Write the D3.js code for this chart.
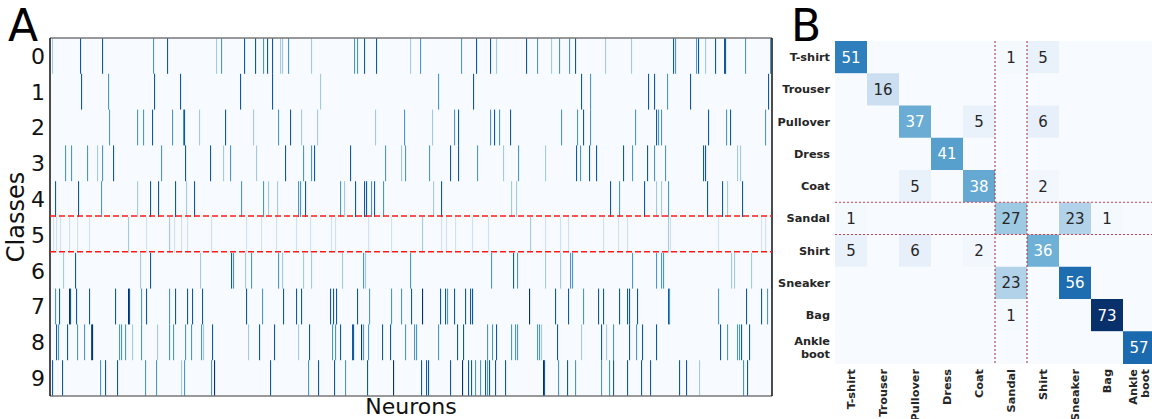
<!DOCTYPE html>
<html>
<head>
<meta charset="utf-8">
<script src="https://cdn.jsdelivr.net/npm/d3@7"></script>
<style>
body { margin: 0; background: #fff; }
svg { display: block; font-family: "DejaVu Sans", sans-serif; }
</style>
</head>
<body>
<svg id="chart" width="1152" height="419"></svg>
<script>
// panel A: active neurons per class, [neuron index, intensity level 1..5]
var nNeurons = 722;
var class0 = [[2,2],[30,4],[52,4],[103,3],[117,4],[166,2],[171,3],[194,4],[205,4],[213,3],[217,4],[222,4],[230,2],[232,2],[238,3],[261,2],[304,3],[307,3],[314,4],[326,4],[360,2],[370,3],[411,3],[426,4],[440,4],[446,2],[476,4],[487,3],[501,2],[509,3],[519,3],[525,4],[555,2],[581,2],[623,4],[625,3],[646,3],[648,4],[655,2],[665,4],[674,4],[675,4],[695,3],[720,3]];
var class1 = [[31,4],[58,3],[104,4],[130,4],[190,4],[222,4],[270,2],[388,3],[423,4],[531,4],[540,3],[598,4],[604,4],[617,3],[640,4],[718,4]];
var class2 = [[59,3],[87,3],[93,3],[102,4],[122,3],[133,3],[134,4],[149,2],[175,4],[203,2],[228,3],[240,4],[251,2],[267,2],[325,2],[354,3],[382,2],[404,3],[408,4],[440,3],[444,4],[449,3],[460,4],[511,3],[527,3],[533,4],[540,3],[585,3],[606,4],[608,3],[611,3],[658,4],[676,3],[680,4],[715,3]];
var class3 = [[15,3],[21,3],[37,3],[47,2],[52,3],[63,4],[111,3],[135,4],[160,4],[173,2],[180,3],[206,2],[235,4],[253,3],[261,3],[264,4],[300,4],[335,3],[351,2],[355,3],[379,3],[400,4],[408,4],[427,3],[453,2],[468,3],[495,2],[526,4],[530,3],[539,4],[546,4],[573,4],[582,3],[597,4],[604,3],[615,3],[653,4],[655,4],[687,2],[690,2]];
var class4 = [[5,4],[28,4],[51,3],[87,2],[100,4],[108,4],[125,4],[136,2],[144,4],[191,3],[213,3],[218,2],[227,2],[248,3],[250,3],[255,4],[290,3],[294,2],[305,4],[314,4],[316,4],[321,3],[324,4],[333,3],[383,2],[391,4],[461,2],[466,2],[560,4],[569,3],[594,4],[606,2],[611,2],[618,3],[657,4],[672,4],[677,2],[692,4]];
var class5 = [[3,1],[6,1],[10,1],[19,1],[27,1],[39,1],[78,2],[96,1],[119,2],[124,1],[131,1],[137,1],[161,1],[196,1],[211,1],[226,1],[246,1],[260,1],[281,1],[285,1],[318,1],[341,1],[372,2],[391,1],[396,1],[405,1],[422,1],[438,1],[480,2],[495,1],[510,1],[518,1],[553,1],[568,1],[577,1],[618,2],[620,1],[668,1],[711,1],[715,1]];
var class6 = [[13,2],[25,4],[90,2],[100,4],[150,2],[181,4],[183,3],[195,2],[201,3],[228,3],[232,2],[253,2],[261,2],[292,2],[313,3],[315,2],[360,3],[441,3],[463,4],[467,3],[495,2],[510,2],[520,3],[522,3],[582,3],[606,3],[611,3],[613,3],[681,2],[684,2],[701,2],[721,2]];
var class7 = [[5,3],[9,4],[19,5],[20,4],[26,4],[39,4],[65,4],[78,5],[79,4],[91,3],[96,4],[119,3],[125,4],[137,4],[142,4],[152,4],[196,4],[212,3],[233,4],[246,4],[251,4],[280,4],[283,4],[286,4],[307,4],[319,3],[341,3],[351,3],[361,4],[372,5],[390,4],[395,4],[397,3],[404,4],[415,4],[420,4],[422,4],[479,5],[505,4],[518,4],[533,3],[548,4],[553,4],[569,4],[577,4],[579,4],[587,4],[618,4],[619,3],[668,3],[696,4],[711,4],[717,3]];
var class8 = [[6,4],[8,3],[17,4],[27,3],[34,3],[41,4],[42,5],[69,3],[71,3],[75,3],[82,2],[91,3],[107,2],[119,3],[123,3],[135,3],[141,3],[151,3],[153,2],[162,4],[198,2],[209,4],[224,4],[248,2],[259,4],[282,3],[285,3],[290,4],[302,4],[303,4],[311,5],[313,3],[318,3],[332,4],[340,4],[355,3],[364,3],[366,3],[388,3],[407,4],[413,4],[437,3],[442,3],[446,4],[461,3],[465,3],[467,3],[487,3],[489,3],[491,2],[507,4],[531,2],[551,4],[556,2],[563,3],[579,4],[586,3],[592,4],[606,4],[670,4],[677,3],[687,3],[689,3],[691,4],[699,4]];
var class9 = [[2,4],[12,4],[50,3],[55,4],[67,4],[95,3],[106,3],[131,2],[134,3],[161,3],[164,5],[220,4],[258,3],[268,4],[284,4],[295,3],[317,4],[343,5],[371,4],[376,4],[378,4],[400,4],[412,5],[418,4],[421,4],[425,3],[430,3],[435,4],[437,3],[439,4],[445,4],[455,4],[493,5],[494,4],[508,3],[517,4],[525,3],[551,3],[559,3],[563,4],[577,4],[591,4],[600,4],[629,4],[636,4],[649,2],[693,3],[697,4]];
var rasterRows = [class0, class1, class2, class3, class4, class5, class6, class7, class8, class9];
var classIds = ["0","1","2","3","4","5","6","7","8","9"];
var highlightClass = 5;

// panel B: confusion matrix
var labels = ["T-shirt","Trouser","Pullover","Dress","Coat","Sandal","Shirt","Sneaker","Bag","Ankle boot"];
var matrix = [
  [51, 0, 0, 0, 0, 1, 5, 0, 0, 0],
  [0, 16, 0, 0, 0, 0, 0, 0, 0, 0],
  [0, 0, 37, 0, 5, 0, 6, 0, 0, 0],
  [0, 0, 0, 41, 0, 0, 0, 0, 0, 0],
  [0, 0, 5, 0, 38, 0, 2, 0, 0, 0],
  [1, 0, 0, 0, 0, 27, 0, 23, 1, 0],
  [5, 0, 6, 0, 2, 0, 36, 0, 0, 0],
  [0, 0, 0, 0, 0, 23, 0, 56, 0, 0],
  [0, 0, 0, 0, 0, 1, 0, 0, 73, 0],
  [0, 0, 0, 0, 0, 0, 0, 0, 0, 57]
];

var svg = d3.select("#chart");
var levelColor = {1: 0.2, 2: 0.36, 3: 0.6, 4: 0.84, 5: 1.0};

// ---------- panel A ----------
var ax = {left: 50, right: 772, top: 38, bottom: 396};
var x = d3.scaleLinear().domain([0, nNeurons]).range([ax.left, ax.right]);
var y = d3.scaleBand().domain(classIds).range([ax.top, ax.bottom]);

svg.append("rect")
    .attr("x", ax.left).attr("y", ax.top)
    .attr("width", ax.right - ax.left).attr("height", ax.bottom - ax.top)
    .attr("fill", "#f7fbff");

rasterRows.forEach(function (row, k) {
    svg.append("g").selectAll("rect")
        .data(row)
        .enter()
        .append("rect")
        .attr("x", function (d) { return Math.round(x(d[0])); })
        .attr("y", y(classIds[k]))
        .attr("width", 1.1)
        .attr("height", y.bandwidth())
        .attr("fill", function (d) { return d3.interpolateBlues(levelColor[d[1]]); });
});

// frame
svg.append("line").attr("x1", ax.left).attr("x2", ax.right).attr("y1", ax.top).attr("y2", ax.top)
    .attr("stroke", "#777").attr("stroke-width", 1.5);
svg.append("line").attr("x1", ax.left).attr("x2", ax.right).attr("y1", ax.bottom).attr("y2", ax.bottom)
    .attr("stroke", "#777").attr("stroke-width", 1.5);
svg.append("line").attr("x1", ax.left).attr("x2", ax.left).attr("y1", ax.top).attr("y2", ax.bottom)
    .attr("stroke", "#111").attr("stroke-width", 1.5);
svg.append("line").attr("x1", ax.right).attr("x2", ax.right).attr("y1", ax.top).attr("y2", ax.bottom)
    .attr("stroke", "#111").attr("stroke-width", 1.5);

// red dashed lines around the highlighted class
[y(classIds[highlightClass]), y(classIds[highlightClass]) + y.bandwidth()].forEach(function (yy) {
    svg.append("line")
        .attr("x1", ax.left).attr("x2", ax.right)
        .attr("y1", yy - 1).attr("y2", yy - 1)
        .attr("stroke", "#ff1a1a").attr("stroke-width", 1.6)
        .attr("stroke-dasharray", "6,3");
});

svg.append("g").selectAll("text")
    .data(classIds)
    .enter()
    .append("text")
    .attr("x", 45)
    .attr("y", function (d) { return y(d) + y.bandwidth() / 2; })
    .attr("dy", "0.36em")
    .attr("text-anchor", "end")
    .attr("font-size", 22)
    .attr("fill", "#111")
    .text(function (d) { return d; });

svg.append("text")
    .attr("transform", "translate(24," + ((ax.top + ax.bottom) / 2) + ") rotate(-90)")
    .attr("text-anchor", "middle")
    .attr("font-size", 24)
    .attr("fill", "#111")
    .text("Classes");

svg.append("text")
    .attr("x", (ax.left + ax.right) / 2).attr("y", 414)
    .attr("text-anchor", "middle")
    .attr("font-size", 22)
    .attr("fill", "#111")
    .text("Neurons");

svg.append("text").attr("x", 8).attr("y", 41).attr("font-size", 44).attr("fill", "#000").text("A");

// ---------- panel B ----------
var bx = {left: 835, top: 41, cell: 32, cellH: 32.25};
var xb = d3.scaleBand().domain(d3.range(10)).range([bx.left, bx.left + 10 * bx.cell]);
var yb = d3.scaleBand().domain(d3.range(10)).range([bx.top, bx.top + 10 * bx.cellH]);
var vmax = d3.max(matrix, function (r) { return d3.max(r); });
var cells = [];
matrix.forEach(function (r, i) {
    r.forEach(function (v, j) { cells.push({i: i, j: j, v: v}); });
});

svg.append("g").selectAll("rect")
    .data(cells)
    .enter()
    .append("rect")
    .attr("x", function (d) { return xb(d.j); })
    .attr("y", function (d) { return yb(d.i); })
    .attr("width", xb.bandwidth() + 0.5)
    .attr("height", yb.bandwidth() + 0.5)
    .attr("fill", function (d) { return d3.interpolateBlues(d.v / vmax); });

svg.append("g").selectAll("text")
    .data(cells.filter(function (d) { return d.v > 0; }))
    .enter()
    .append("text")
    .attr("x", function (d) { return xb(d.j) + xb.bandwidth() / 2; })
    .attr("y", function (d) { return yb(d.i) + yb.bandwidth() / 2; })
    .attr("dy", "0.36em")
    .attr("text-anchor", "middle")
    .attr("font-size", 15)
    .attr("fill", function (d) { return d.v / vmax > 0.45 ? "#ffffff" : "#262626"; })
    .text(function (d) { return d.v; });

// dotted guides around Sandal
var hl = labels.indexOf("Sandal");
[xb(hl), xb(hl) + xb.bandwidth()].forEach(function (xx) {
    svg.append("line")
        .attr("x1", xx).attr("x2", xx)
        .attr("y1", bx.top).attr("y2", bx.top + 10 * bx.cellH)
        .attr("stroke", "#9e2a35").attr("stroke-width", 1)
        .attr("stroke-dasharray", "2,2");
});
[yb(hl), yb(hl) + yb.bandwidth()].forEach(function (yy) {
    svg.append("line")
        .attr("x1", bx.left).attr("x2", 1152)
        .attr("y1", yy).attr("y2", yy)
        .attr("stroke", "#d04050").attr("stroke-width", 1)
        .attr("stroke-dasharray", "2,2");
});

// row labels
labels.forEach(function (lab, i) {
    var parts = lab === "Ankle boot" ? ["Ankle", "boot"] : [lab];
    var t = svg.append("text")
        .attr("x", 830)
        .attr("y", yb(i) + yb.bandwidth() / 2)
        .attr("text-anchor", "end")
        .attr("font-size", 11.3)
        .attr("font-weight", "bold")
        .attr("fill", "#262626");
    parts.forEach(function (p, k) {
        t.append("tspan")
            .attr("x", 830)
            .attr("dy", k === 0 ? (0.36 - (parts.length - 1) * 0.55) + "em" : "1.1em")
            .text(p);
    });
});

// column labels (rotated)
labels.forEach(function (lab, j) {
    var parts = lab === "Ankle boot" ? ["Ankle", "boot"] : [lab];
    var t = svg.append("text")
        .attr("transform", "translate(" + (xb(j) + xb.bandwidth() / 2) + ",369) rotate(-90)")
        .attr("text-anchor", "end")
        .attr("font-size", 11.3)
        .attr("font-weight", "bold")
        .attr("fill", "#262626");
    parts.forEach(function (p, k) {
        t.append("tspan")
            .attr("x", 0)
            .attr("dy", k === 0 ? (0.36 - (parts.length - 1) * 0.55) + "em" : "1.1em")
            .text(p);
    });
});

svg.append("text").attr("x", 791).attr("y", 41).attr("font-size", 44).attr("fill", "#000").text("B");
</script>
</body>
</html>
